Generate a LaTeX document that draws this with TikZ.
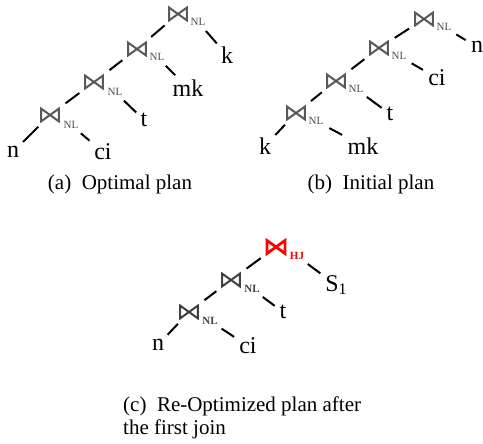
\documentclass[tikz,border=0pt]{standalone}
\usepackage{fontspec}
\setmainfont{Liberation Serif}
\begin{document}
\begin{tikzpicture}[x=1pt,y=-1pt,
  lbl/.style={inner sep=0pt, font=\fontsize{24}{24}\selectfont},
  captext/.style={inner sep=0pt, font=\fontsize{21}{23}\selectfont, align=left},
  joinnode/.style={minimum width=21pt, minimum height=16pt, inner sep=0pt,
    path picture={\draw[#1, line width=2pt, line join=miter]
      ([shift={(1.6pt,1.6pt)}]path picture bounding box.south west) --
      ([shift={(-1.6pt,-1.6pt)}]path picture bounding box.north east) --
      ([shift={(-1.6pt,1.6pt)}]path picture bounding box.south east) --
      ([shift={(1.6pt,-1.6pt)}]path picture bounding box.north west) -- cycle;}},
  joinnode/.default={black!65},
  hjnode/.style={minimum width=22pt, minimum height=17pt, inner sep=0pt,
    path picture={\draw[red, line width=2.8pt, line join=miter]
      ([shift={(2pt,2pt)}]path picture bounding box.south west) --
      ([shift={(-2pt,-2pt)}]path picture bounding box.north east) --
      ([shift={(-2pt,2pt)}]path picture bounding box.south east) --
      ([shift={(2pt,-2pt)}]path picture bounding box.north west) -- cycle;}},
  alg/.style={inner sep=0pt, text=black!70, font=\fontsize{11}{11}\selectfont},
  algb/.style={inner sep=0pt, text=black!75, font=\fontsize{11}{11}\selectfont\bfseries},
  edge/.style={line width=2pt},
  ledge/.style={edge, shorten <=5pt, shorten >=6pt},
  redge/.style={edge, shorten <=7pt, shorten >=6pt}
]
\useasboundingbox (0,0) rectangle (483,444);

% (a) Optimal plan
\node[joinnode] (a1) at (178,14) {};
\node[alg] (a1s) at (198,22) {NL};
\node[joinnode] (a2) at (137,49) {};
\node[alg] (a2s) at (157,57) {NL};
\node[joinnode] (a3) at (94,82) {};
\node[alg] (a3s) at (115,92) {NL};
\node[joinnode] (a4) at (50,115) {};
\node[alg] (a4s) at (71,125) {NL};
\node[lbl] (ak) at (227,55) {k};
\node[lbl] (amk) at (188,88) {mk};
\node[lbl] (at) at (144,120) {t};
\node[lbl] (an) at (13,152) {n};
\node[lbl] (aci) at (103,152) {ci};
\draw[ledge] (a1) -- (a2);
\draw[ledge] (a2) -- (a3);
\draw[ledge] (a3) -- (a4);
\draw[ledge] (a4) -- (an);
\draw[redge] (a1s) -- (ak);
\draw[redge] (a2s) -- (amk);
\draw[redge] (a3s) -- (at);
\draw[redge] (a4s) -- (aci);
\node[captext] (capa) at (120,184) {(a)\ \ Optimal plan};

% (b) Initial plan
\node[joinnode] (b1) at (424,19) {};
\node[alg] (b1s) at (444,27) {NL};
\node[joinnode] (b2) at (379,48) {};
\node[alg] (b2s) at (399,56) {NL};
\node[joinnode] (b3) at (336,81) {};
\node[alg] (b3s) at (356,89) {NL};
\node[joinnode] (b4) at (296,113) {};
\node[alg] (b4s) at (316,121) {NL};
\node[lbl] (bn) at (477,47) {n};
\node[lbl] (bci) at (437,78) {ci};
\node[lbl] (bt) at (390,114) {t};
\node[lbl] (bk) at (265,146) {k};
\node[lbl] (bmk) at (363,146) {mk};
\draw[ledge] (b1) -- (b2);
\draw[ledge] (b2) -- (b3);
\draw[ledge] (b3) -- (b4);
\draw[ledge] (b4) -- (bk);
\draw[redge] (b1s) -- (bn);
\draw[redge] (b2s) -- (bci);
\draw[redge] (b3s) -- (bt);
\draw[redge] (b4s) -- (bmk);
\node[captext] (capb) at (371,184) {(b)\ \ Initial plan};

% (c) Re-optimized plan
\node[hjnode] (c1) at (276,247) {};
\node[inner sep=0pt, text=red, font=\fontsize{11}{11}\selectfont\bfseries] (c1s) at (297,256) {HJ};
\node[joinnode={black!75}] (c2) at (231,280) {};
\node[algb] (c2s) at (252,289) {NL};
\node[joinnode={black!75}] (c3) at (189,312) {};
\node[algb] (c3s) at (210,321) {NL};
\node[lbl] (cS) at (336,285) {S\raisebox{-0.3ex}{\fontsize{16}{16}\selectfont 1}};
\node[lbl] (ct) at (283,312) {t};
\node[lbl] (cn) at (158,345) {n};
\node[lbl] (cci) at (248,346) {ci};
\draw[ledge] (c1) -- (c2);
\draw[ledge] (c2) -- (c3);
\draw[ledge] (c3) -- (cn);
\draw[redge] (c1s) -- (cS);
\draw[redge] (c2s) -- (ct);
\draw[redge] (c3s) -- (cci);
\node[captext, anchor=north west] (capc) at (123,397) {(c)\ \ Re-Optimized plan after\\the first join};
\end{tikzpicture}
\end{document}
